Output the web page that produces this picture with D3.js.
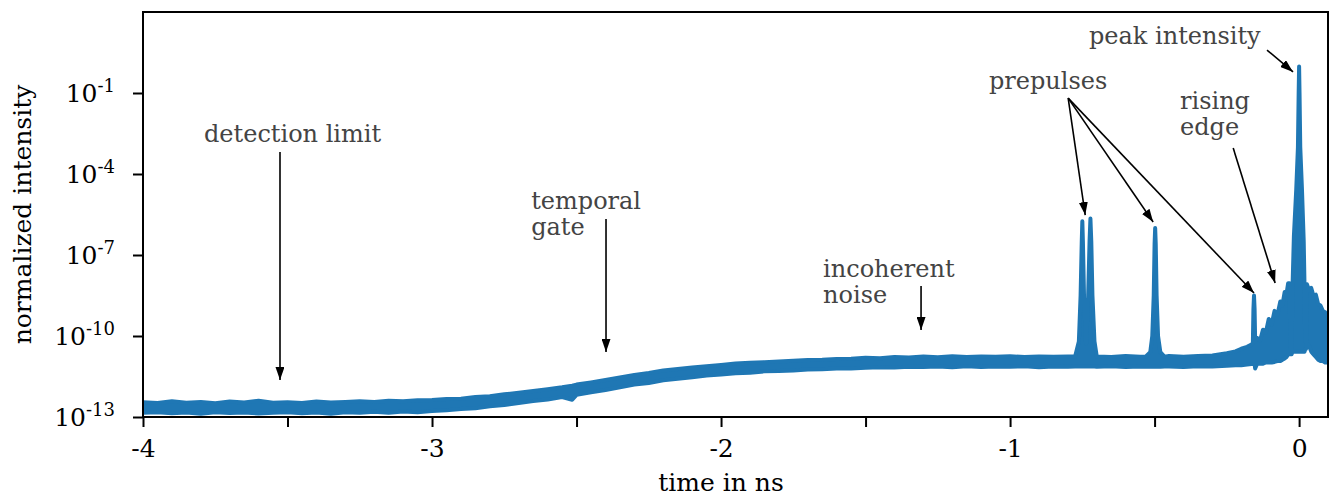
<!DOCTYPE html>
<html>
<head>
<meta charset="utf-8">
<script src="https://cdn.jsdelivr.net/npm/d3@7"></script>
<style>
  body { margin: 0; background: #fff; }
  svg { display: block; }
  text { font-family: "DejaVu Serif", serif; }
</style>
</head>
<body>
<div id="chart"></div>
<script>
// trace: time in ns, upper / lower edge of the noisy trace as log10(intensity)
const timeNs = [
  -4.00, -3.95, -3.90, -3.85, -3.80, -3.75, -3.70, -3.65, -3.60, -3.55,
  -3.50, -3.45, -3.40, -3.35, -3.30, -3.25, -3.20, -3.15, -3.10, -3.05,
  -3.00, -2.95, -2.90, -2.85, -2.80, -2.75, -2.70, -2.65, -2.60, -2.55,
  -2.515, -2.50, -2.45, -2.40, -2.35, -2.30, -2.25, -2.20, -2.15, -2.10,
  -2.05, -2.00, -1.95, -1.90, -1.85, -1.80, -1.75, -1.70, -1.65, -1.60,
  -1.55, -1.50, -1.45, -1.40, -1.35, -1.30, -1.25, -1.20, -1.15, -1.10,
  -1.05, -1.00, -0.95, -0.90, -0.85, -0.80, -0.775,
  -0.762, -0.756, -0.752, -0.750, -0.748, -0.744, -0.737, -0.730, -0.725, -0.722,
  -0.719, -0.715, -0.708, -0.700, -0.65, -0.60, -0.55, -0.530,
  -0.515, -0.508, -0.503, -0.500, -0.498, -0.496, -0.493, -0.488, -0.480, -0.465,
  -0.45, -0.40, -0.35, -0.30, -0.25, -0.22, -0.20, -0.18, -0.165,
  -0.160, -0.158, -0.156, -0.154, -0.152,
  -0.145, -0.135, -0.125, -0.115, -0.105, -0.095, -0.085, -0.075, -0.065, -0.058,
  -0.050, -0.044, -0.038, -0.033, -0.030, -0.026,
  -0.023, -0.018, -0.010, -0.004, -0.0015, 0.000, 0.0015, 0.004, 0.010, 0.016,
  0.019, 0.021, 0.024, 0.027, 0.035, 0.042, 0.050, 0.058, 0.066, 0.074,
  0.082, 0.090, 0.100
];
const upperLog = [
  -12.45, -12.48, -12.42, -12.47, -12.44, -12.49, -12.43, -12.46, -12.40, -12.47,
  -12.45, -12.48, -12.43, -12.46, -12.44, -12.42, -12.44, -12.40, -12.42, -12.38,
  -12.37, -12.33, -12.32, -12.26, -12.23, -12.16, -12.10, -12.04, -11.97, -11.90,
  -11.84, -11.80, -11.72, -11.63, -11.54, -11.44, -11.37, -11.28, -11.22, -11.17,
  -11.12, -11.07, -11.02, -10.99, -10.97, -10.94, -10.92, -10.89, -10.88, -10.85,
  -10.84, -10.81, -10.82, -10.78, -10.80, -10.76, -10.79, -10.75, -10.78, -10.76,
  -10.77, -10.75, -10.78, -10.76, -10.77, -10.76, -10.76,
  -10.20, -8.50, -6.50, -5.75, -6.50, -8.60, -10.30, -8.60, -6.50, -5.65,
  -6.50, -8.50, -10.20, -10.76, -10.78, -10.74, -10.77, -10.76,
  -10.60, -10.00, -8.50, -6.60, -6.00, -6.60, -8.50, -10.00, -10.60, -10.77,
  -10.74, -10.77, -10.74, -10.72, -10.64, -10.57, -10.47, -10.40, -10.32,
  -10.27, -9.00, -8.50, -9.00, -10.20,
  -10.07, -10.17, -9.77, -9.87, -9.37, -9.57, -9.07, -9.22, -8.72, -8.87,
  -8.37, -8.47, -8.05, -8.05, -10.45, -10.50,
  -8.30, -6.30, -4.60, -3.00, -1.00, -0.02, -1.00, -3.00, -4.60, -6.50,
  -8.30, -10.20, -10.20, -8.08, -8.32, -8.22, -8.52, -8.47, -8.82, -8.87,
  -9.07, -9.12, -9.32
];
const lowerLog = [
  -12.84, -12.82, -12.86, -12.83, -12.88, -12.82, -12.85, -12.83, -12.87, -12.84,
  -12.82, -12.86, -12.83, -12.88, -12.82, -12.84, -12.81, -12.84, -12.80, -12.82,
  -12.78, -12.75, -12.70, -12.68, -12.60, -12.56, -12.48, -12.41, -12.35, -12.26,
  -12.36, -12.18, -12.08, -12.00, -11.90, -11.80, -11.74, -11.64, -11.58, -11.53,
  -11.46, -11.43, -11.38, -11.36, -11.31, -11.30, -11.28, -11.24, -11.23, -11.20,
  -11.20, -11.18, -11.16, -11.17, -11.14, -11.15, -11.13, -11.16, -11.12, -11.15,
  -11.13, -11.14, -11.12, -11.16, -11.13, -11.14, -11.13,
  -11.13, -11.13, -11.13, -11.13, -11.13, -11.13, -11.13, -11.13, -11.13, -11.13,
  -11.13, -11.13, -11.13, -11.14, -11.12, -11.15, -11.13, -11.14,
  -11.14, -11.14, -11.14, -11.14, -11.14, -11.14, -11.14, -11.14, -11.14, -11.13,
  -11.13, -11.15, -11.12, -11.13, -11.10, -11.08, -11.08, -11.06, -11.04,
  -11.04, -11.04, -11.04, -11.04, -11.20,
  -11.03, -11.03, -11.03, -10.98, -10.98, -10.98, -10.96, -10.93, -10.93, -10.88,
  -10.83, -10.78, -10.68, -10.58, -10.68, -10.68,
  -10.58, -10.58, -10.58, -10.58, -10.58, -10.58, -10.58, -10.58, -10.58, -10.58,
  -10.58, -10.48, -10.48, -10.28, -10.38, -10.58, -10.68, -10.78, -10.88, -10.93,
  -10.93, -10.98, -10.98
];

const xTicks = [-4, -3.5, -3, -2.5, -2, -1.5, -1, -0.5, 0];
const yTickExps = [-13, -10, -7, -4, -1];

// annotation text anchors and arrows in data coordinates (time, log10 intensity)
const annotations = [
  { lines: ["detection limit"], at: [-3.789, -2.815], arrows: [[-3.526, -3.185, -3.526, -11.63]] },
  { lines: ["temporal", "gate"], at: [-2.657, -5.28], arrows: [[-2.398, -5.67, -2.398, -10.59]] },
  { lines: ["incoherent", "noise"], at: [-1.647, -7.80], arrows: [[-1.308, -8.15, -1.308, -9.78]] },
  { lines: ["prepulses"], at: [-1.073, -0.85], arrows: [
      [-0.799, -1.19, -0.740, -5.52],
      [-0.799, -1.19, -0.505, -5.78],
      [-0.799, -1.19, -0.156, -8.41]] },
  { lines: ["rising", "edge"], at: [-0.412, -1.58], arrows: [[-0.228, -3.04, -0.083, -8.04]] },
  { lines: ["peak intensity"], at: [-0.727, 0.81], arrows: [[-0.111, 0.59, -0.021, -0.22]] }
];

const W = 1335, H = 497;
const margin = { top: 12, right: 7, bottom: 80, left: 143 };
const width = W - margin.left - margin.right;
const height = H - margin.top - margin.bottom;
const blue = "#1f77b4";

const svg = d3.select("#chart").append("svg")
  .attr("width", W)
  .attr("height", H);

svg.append("defs").append("marker")
  .attr("id", "head")
  .attr("viewBox", "0 0 13 9")
  .attr("refX", 13).attr("refY", 4.5)
  .attr("markerWidth", 13).attr("markerHeight", 9)
  .attr("markerUnits", "userSpaceOnUse")
  .attr("orient", "auto")
  .append("path").attr("d", "M0,0 L13,4.5 L0,9 Z").attr("fill", "#000");

svg.select("defs").append("clipPath").attr("id", "plot-clip")
  .append("rect").attr("width", width).attr("height", height);

const g = svg.append("g").attr("transform", `translate(${margin.left},${margin.top})`);

const x = d3.scaleLinear().domain([-4, 0.1]).range([0, width]);
const y = d3.scaleLog().domain([1e-13, 1e2]).range([height, 0]);

const trace = timeNs.map((t, i) => ({ t, hi: Math.pow(10, upperLog[i]), lo: Math.pow(10, lowerLog[i]) }));

const area = d3.area()
  .x(d => x(d.t))
  .y0(d => y(d.lo))
  .y1(d => y(d.hi));

g.append("g").attr("clip-path", "url(#plot-clip)")
  .append("path")
  .datum(trace)
  .attr("d", area)
  .attr("fill", blue)
  .attr("stroke", blue)
  .attr("stroke-width", 4)
  .attr("stroke-linejoin", "round");

// axes
const xAxis = g.append("g")
  .attr("transform", `translate(0,${height})`)
  .call(d3.axisBottom(x).tickValues(xTicks).tickSize(10).tickPadding(6)
    .tickFormat(d => Number.isInteger(d) ? String(d) : ""));

const yAxis = g.append("g")
  .call(d3.axisLeft(y).tickValues(yTickExps.map(e => Math.pow(10, e))).tickSize(10).tickFormat(""));

[xAxis, yAxis].forEach(a => {
  a.select(".domain").remove();
  a.selectAll(".tick line").attr("stroke", "#000").attr("stroke-width", 2);
});
xAxis.selectAll(".tick text")
  .attr("font-size", 25).attr("fill", "#000").attr("dy", "0.95em")
  .text(d => Number.isInteger(d) ? (d < 0 ? "-" + Math.abs(d) : String(d)) : "");

const yl = yAxis.selectAll(".tick").append("text")
  .attr("x", -28).attr("dy", "0.35em")
  .attr("text-anchor", "end")
  .attr("font-size", 25).attr("fill", "#000");
yl.append("tspan").text("10");
yl.append("tspan").attr("font-size", 18).attr("dy", "-0.55em").text(d => Math.round(Math.log10(d)));

g.append("rect")
  .attr("width", width).attr("height", height)
  .attr("fill", "none").attr("stroke", "#000").attr("stroke-width", 2);

// axis titles
svg.append("text")
  .attr("x", margin.left + x(-2)).attr("y", 491)
  .attr("text-anchor", "middle").attr("font-size", 25).attr("fill", "#000")
  .text("time in ns");

svg.append("text")
  .attr("transform", `translate(31,${margin.top + height / 2}) rotate(-90)`)
  .attr("text-anchor", "middle").attr("font-size", 25).attr("fill", "#000")
  .text("normalized intensity");

// annotations
const ann = g.append("g");
annotations.forEach(a => {
  a.arrows.forEach(([t0, l0, t1, l1]) => {
    ann.append("line")
      .attr("x1", x(t0)).attr("y1", y(Math.pow(10, l0)))
      .attr("x2", x(t1)).attr("y2", y(Math.pow(10, l1)))
      .attr("stroke", "#000").attr("stroke-width", 1.6)
      .attr("marker-end", "url(#head)");
  });
  a.lines.forEach((line, i) => {
    ann.append("text")
      .attr("x", x(a.at[0]))
      .attr("y", y(Math.pow(10, a.at[1])) + i * 26)
      .attr("font-size", 24).attr("fill", "#444")
      .text(line);
  });
});
</script>
</body>
</html>
